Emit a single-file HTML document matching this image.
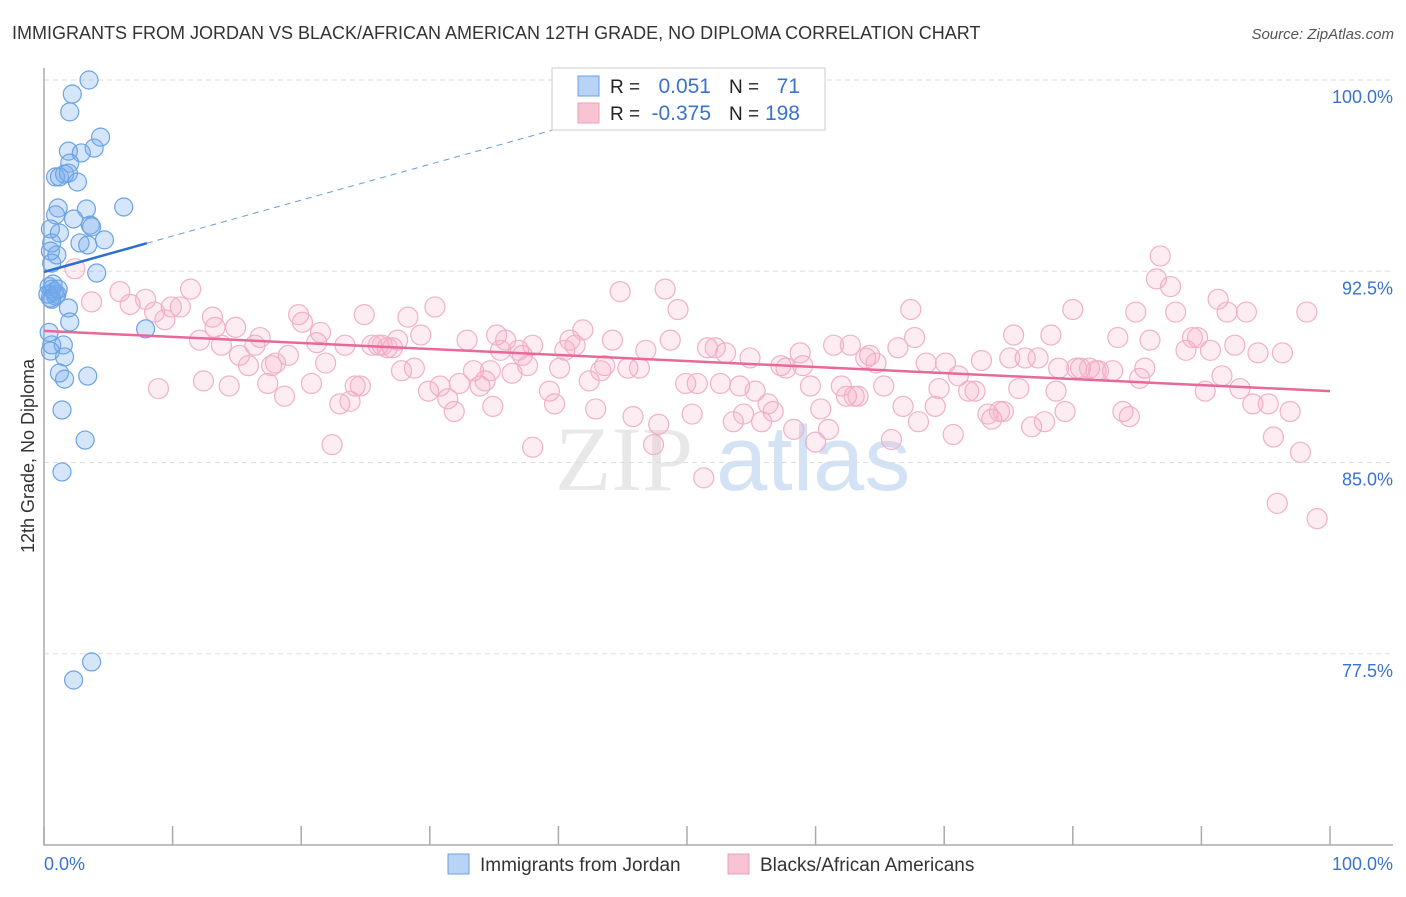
<!DOCTYPE html>
<html><head><meta charset="utf-8"><style>
body{margin:0;background:#fff;width:1406px;height:892px;overflow:hidden;font-family:"Liberation Sans",sans-serif}
</style></head><body>
<svg id="chart" width="1406" height="892" xmlns="http://www.w3.org/2000/svg" style="font-family:'Liberation Sans',sans-serif">
<text x="12" y="39" font-size="18" fill="#333">IMMIGRANTS FROM JORDAN VS BLACK/AFRICAN AMERICAN 12TH GRADE, NO DIPLOMA CORRELATION CHART</text>
<text x="1394" y="39" font-size="15" fill="#555" font-style="italic" text-anchor="end">Source: ZipAtlas.com</text>
<text transform="translate(34,456) rotate(-90)" font-size="18" fill="#333" text-anchor="middle">12th Grade, No Diploma</text>
<g font-size="92">
<text x="555" y="490" fill="#e8e8e8" font-family="'Liberation Serif',serif">ZIP</text>
<text x="716" y="490" fill="#d3e2f4">atlas</text>
</g>
<g id="grid"></g><g id="axes"></g><g id="pink"></g><g id="blue"></g><g id="lines"></g>
<g>
<rect x="552" y="68" width="273" height="62" fill="#fff" stroke="#ccc"/>
<rect x="578" y="76" width="21" height="20" fill="#b8d3f5" stroke="#6aa0e0"/>
<rect x="578" y="103" width="21" height="20" fill="#f8c4d4" stroke="#eaa0b8"/>
<text x="610" y="93" font-size="19" fill="#222">R =</text><text x="711" y="93" font-size="21" fill="#3a72d0" text-anchor="end">0.051</text>
<text x="729" y="93" font-size="19" fill="#222">N =</text><text x="800" y="93" font-size="21" fill="#3a72d0" text-anchor="end">71</text>
<text x="610" y="120" font-size="19" fill="#222">R =</text><text x="711" y="120" font-size="21" fill="#3a72d0" text-anchor="end">-0.375</text>
<text x="729" y="120" font-size="19" fill="#222">N =</text><text x="800" y="120" font-size="21" fill="#3a72d0" text-anchor="end">198</text>
</g>
<g>
<rect x="448" y="854" width="21" height="20" fill="#b8d3f5" stroke="#6aa0e0"/>
<text x="480" y="871" font-size="19" fill="#333">Immigrants from Jordan</text>
<rect x="728" y="854" width="21" height="20" fill="#f8c4d4" stroke="#eaa0b8"/>
<text x="760" y="871" font-size="19" fill="#333">Blacks/African Americans</text>
</g>
</svg>
<script>
const yTicks=[100,92.5,85,77.5];
const yTickLabels=["100.0%","92.5%","85.0%","77.5%"];
const xTicks=[0,10,20,30,40,50,60,70,80,90,100];
const blueX=[3.5,2.2,2.0,4.4,3.9,1.9,2.9,2.0,0.9,1.2,1.6,1.9,2.6,6.2,1.1,3.3,0.9,2.3,3.6,3.7,0.5,1.2,4.7,2.8,3.4,0.6,0.5,1.0,0.6,4.1,0.6,0.5,0.9,1.9,2.0,7.9,0.6,1.5,0.5,1.6,1.2,1.6,3.4,1.4,3.2,1.4,3.7,2.3,0.4,0.8,1.0,0.3,0.6,0.7,1.1,0.4];
const blueY=[100,99.45,98.75,97.76,97.33,97.21,97.14,96.74,96.2,96.2,96.31,96.35,96.0,95.02,94.98,94.94,94.71,94.55,94.31,94.24,94.16,94.0,93.73,93.61,93.53,93.61,93.29,93.14,92.82,92.43,91.8,91.45,91.53,91.06,90.51,90.24,89.61,89.61,89.37,89.14,88.51,88.27,88.39,87.06,85.88,84.63,77.18,76.47,91.9,91.7,91.6,91.6,91.4,92.0,91.8,90.1];
const pinkX=[2.4,3.7,5.9,6.7,8.9,7.9,8.6,9.4,9.9,10.6,11.4,12.1,12.4,13.1,13.3,13.8,14.4,14.9,15.2,15.9,16.4,16.8,17.4,17.7,18.0,18.7,19.0,19.8,20.1,20.8,21.2,21.5,21.9,22.4,23.0,23.4,23.8,24.2,24.6,24.9,25.5,26.0,26.3,26.7,27.1,27.5,27.8,28.3,28.8,29.3,29.9,30.4,30.8,31.4,31.9,32.3,32.9,33.4,33.9,34.3,34.7,34.9,35.2,35.5,35.9,36.4,36.9,37.2,37.6,38.0,38.0,39.3,39.7,40.1,40.5,40.9,41.3,41.9,42.4,42.9,43.3,43.6,44.2,44.8,45.4,45.8,46.3,46.8,47.4,47.8,48.3,48.7,49.3,49.9,50.4,50.8,51.3,51.6,52.2,52.6,53.0,53.6,54.1,54.4,54.9,55.3,55.8,56.3,56.7,57.3,57.7,58.3,58.8,59.0,59.6,60.0,60.4,61.0,61.4,62.0,62.4,62.7,63.0,63.3,63.9,64.2,64.7,65.3,65.9,66.4,66.8,67.4,67.7,68.0,68.6,69.3,69.6,70.1,70.7,71.1,71.9,72.4,72.9,73.4,73.7,74.3,74.6,75.1,75.4,75.8,76.3,76.8,77.3,77.8,78.3,78.7,78.9,79.4,80.0,80.3,80.6,81.3,81.8,82.0,83.1,83.5,83.9,84.4,84.9,85.2,85.6,86.0,86.5,86.8,87.6,88.0,88.8,89.3,89.7,90.3,90.7,91.3,91.6,92.0,92.6,93.0,93.5,94.0,94.4,95.2,95.6,95.9,96.3,96.9,97.7,98.2,99.0];
const pinkY=[92.6,91.3,91.7,91.2,87.9,91.4,90.9,90.6,91.1,91.1,91.8,89.8,88.2,90.7,90.3,89.6,88.0,90.3,89.2,88.8,89.6,89.9,88.1,88.8,88.9,87.6,89.2,90.8,90.5,88.1,89.7,90.1,88.9,85.7,87.3,89.6,87.4,88.0,88.0,90.8,89.6,89.6,89.6,89.5,89.5,89.8,88.6,90.7,88.7,90.0,87.8,91.1,88.0,87.5,87.0,88.1,89.8,88.6,88.0,88.2,88.6,87.2,90.0,89.4,89.8,88.5,89.4,89.2,88.8,85.6,89.6,87.8,87.3,88.7,89.4,89.8,89.6,90.2,88.2,87.1,88.6,88.8,89.8,91.7,88.7,86.8,88.7,89.4,85.7,86.5,91.8,89.8,91.0,88.1,86.9,88.1,84.4,89.5,89.5,88.1,89.3,86.6,88.0,86.9,89.1,87.8,86.6,87.3,87.0,88.8,88.7,86.3,89.3,88.8,88.0,85.8,87.1,86.3,89.6,88.0,87.6,89.6,87.6,87.6,89.1,89.2,88.9,88.0,85.9,89.5,87.2,91.0,89.9,86.6,88.9,87.2,87.9,88.9,86.1,88.4,87.8,87.8,89.0,86.9,86.7,87.0,87.0,89.1,90.0,87.9,89.1,86.4,89.1,86.6,90.0,87.8,88.7,87.0,91.0,88.7,88.7,88.7,88.6,88.6,88.6,89.9,87.0,86.8,90.9,88.3,88.7,89.8,92.2,93.1,91.9,90.9,89.4,89.9,89.9,87.8,89.4,91.4,88.4,90.9,89.6,87.9,90.9,87.3,89.3,87.3,86.0,83.4,89.3,87.0,85.4,90.9,82.8];
const blueLine=[[0,92.47],[8,93.6]], blueDash=[[8,93.6],[40,98.1]];
const pinkLine=[[0,90.16],[100,87.8]];
const NS="http://www.w3.org/2000/svg";
const xs=v=>44+v*12.86, ys=v=>80+(100-v)*25.5;
function mk(t,a,p){const e=document.createElementNS(NS,t);for(const k in a)e.setAttribute(k,a[k]);p.appendChild(e);return e;}
const grid=document.getElementById('grid'),axes=document.getElementById('axes');
yTicks.forEach((v,i)=>{
 const l=mk('line',{x1:44,x2:1393,y1:ys(v),y2:ys(v),stroke:'#ddd','stroke-dasharray':'5,4'},grid);
 
 
 const t=mk('text',{x:1393,y:ys(v)+23,'font-size':18,fill:'#3a72d0','text-anchor':'end'},axes);
 t.textContent=yTickLabels[i];
 
 
});
const ax=mk('path',{d:'M44,68V845H1393',stroke:'#aaa',fill:'none','stroke-width':1.5},axes);


xTicks.forEach(v=>{
 const l=mk('line',{x1:xs(v),x2:xs(v),y1:826,y2:845,stroke:'#aaa','stroke-width':1.5},axes);
 
 
});
const x0=mk('text',{x:44,y:870,'font-size':18,fill:'#3a72d0'},axes);x0.textContent='0.0%';


const x1=mk('text',{x:1393,y:870,'font-size':18,fill:'#3a72d0','text-anchor':'end'},axes);x1.textContent='100.0%';


const pg=document.getElementById('pink');
pinkX.forEach((v,i)=>{
 const c=mk('circle',{cx:xs(v),cy:ys(pinkY[i]),r:10,fill:'rgba(244,170,196,0.22)',stroke:'#f0b0c6','stroke-width':1.2},pg);
 
 
});
const bg=document.getElementById('blue');
blueX.forEach((v,i)=>{
 const c=mk('circle',{cx:xs(v),cy:ys(blueY[i]),r:9,fill:'rgba(120,172,238,0.3)',stroke:'#6aa3e4','stroke-width':1.2},bg);
 
 
});
const lg=document.getElementById('lines');
const pl=mk('line',{x1:xs(pinkLine[0][0]),y1:ys(pinkLine[0][1]),x2:xs(pinkLine[1][0]),y2:ys(pinkLine[1][1]),stroke:'#e8689a','stroke-width':2.5},lg);


const bl=mk('line',{x1:xs(blueLine[0][0]),y1:ys(blueLine[0][1]),x2:xs(blueLine[1][0]),y2:ys(blueLine[1][1]),stroke:'#2d6fd0','stroke-width':2.5},lg);


const bd=mk('line',{x1:xs(blueDash[0][0]),y1:ys(blueDash[0][1]),x2:xs(blueDash[1][0]),y2:ys(blueDash[1][1]),stroke:'#6a9be0','stroke-width':1,'stroke-dasharray':'6,5'},lg);


</script>
</body></html>
